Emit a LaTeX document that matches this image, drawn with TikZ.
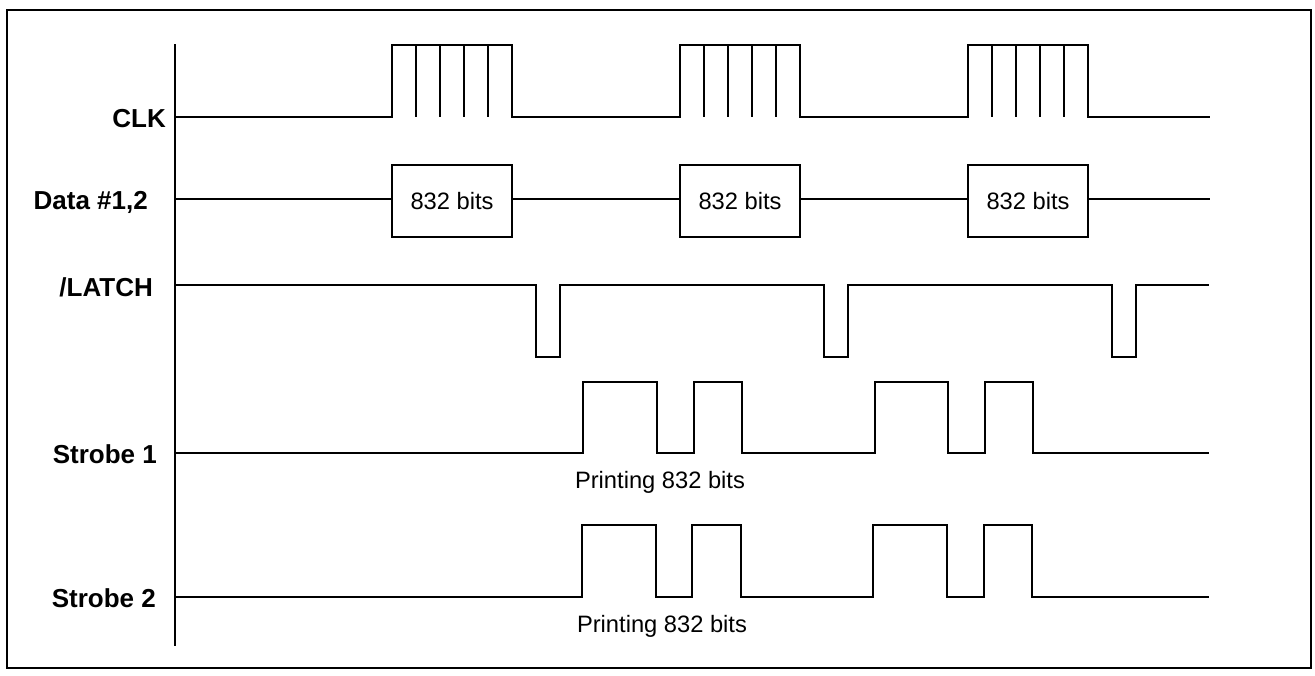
\documentclass[tikz,border=0pt]{standalone}
\usepackage{fontspec}
\setmainfont{Liberation Sans}
\begin{document}
\begin{tikzpicture}[x=1pt,y=-1pt,
  sig/.style={line width=2pt, line join=miter},
  lbl/.style={font=\fontsize{26}{30}\selectfont\bfseries, anchor=base east, inner sep=0pt},
  txt/.style={font=\fontsize{23.7}{28}\selectfont, anchor=base, inner sep=0pt},
  databox/.style={draw, line width=2pt, minimum width=120pt, minimum height=72pt, inner sep=0pt, font=\fontsize{23.7}{28}\selectfont}]
\useasboundingbox (0,0) rectangle (1315,675);
\draw[line width=2pt] (7,10) rectangle (1311,668);
% axis
\coordinate (axtop) at (175,44);
\coordinate (axbot) at (175,646);
\draw[sig] (axtop) -- (axbot);
% labels
\node[lbl] (lclk) at (166,127.5) {CLK};
\node[lbl] (ldata) at (148,209) {Data \#1,2};
\node[lbl] (llatch) at (153,296) {/LATCH};
\node[lbl] (ls1) at (157,463) {Strobe 1};
\node[lbl] (ls2) at (156,607) {Strobe 2};
% CLK
\draw[sig] (175,117) -- (392,117) -- (392,45) -- (512,45) -- (512,117)
  -- (680,117) -- (680,45) -- (800,45) -- (800,117)
  -- (968,117) -- (968,45) -- (1088,45) -- (1088,117) -- (1210,117);
\foreach \s in {392,680,968}{
  \foreach \k in {1,...,4}{
    \draw[sig] ({\s+24*\k},45) -- ({\s+24*\k},117);
  }
}
% Data
\node[databox] (d1) at (452,201) {832 bits};
\node[databox] (d2) at (740,201) {832 bits};
\node[databox] (d3) at (1028,201) {832 bits};
\coordinate (ds) at (175,199);
\coordinate (de) at (1210,199);
\draw[sig] (ds) -- (ds -| d1.west);
\draw[sig] (ds -| d1.east) -- (ds -| d2.west);
\draw[sig] (ds -| d2.east) -- (ds -| d3.west);
\draw[sig] (ds -| d3.east) -- (de);
% LATCH
\draw[sig] (175,285) -- (536,285) -- (536,357) -- (560,357) -- (560,285)
  -- (824,285) -- (824,357) -- (848,357) -- (848,285)
  -- (1112,285) -- (1112,357) -- (1136,357) -- (1136,285) -- (1209,285);
% Strobe 1
\draw[sig] (175,453) -- (583,453) -- (583,382) -- (657,382) -- (657,453)
  -- (694,453) -- (694,382) -- (742,382) -- (742,453)
  -- (875,453) -- (875,382) -- (948,382) -- (948,453)
  -- (985,453) -- (985,382) -- (1033,382) -- (1033,453) -- (1209,453);
\node[txt] (p1) at (660,488) {Printing 832 bits};
% Strobe 2
\draw[sig] (175,597) -- (582,597) -- (582,525) -- (656,525) -- (656,597)
  -- (692,597) -- (692,525) -- (741,525) -- (741,597)
  -- (873,597) -- (873,525) -- (947,525) -- (947,597)
  -- (984,597) -- (984,525) -- (1032,525) -- (1032,597) -- (1209,597);
\node[txt] (p2) at (662,632) {Printing 832 bits};
\end{tikzpicture}
\end{document}
